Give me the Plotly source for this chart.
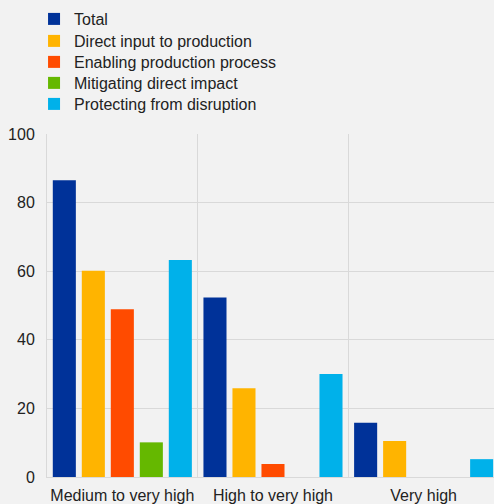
import plotly.graph_objects as go

categories = ["Medium to very high", "High to very high", "Very high"]
series_names = ["Total", "Direct input to production", "Enabling production process",
                "Mitigating direct impact", "Protecting from disruption"]
total = [86.5, 52.3, 15.8]
direct_input = [60.1, 25.9, 10.5]
enabling = [48.9, 3.8, 0.0]
mitigating = [10.1, 0.0, 0.0]
protecting = [63.3, 30.0, 5.2]
y_ticks = [0, 20, 40, 60, 80, 100]

colors = ["#003299", "#ffb400", "#ff4b00", "#65b800", "#00b1ea"]
values = [total, direct_input, enabling, mitigating, protecting]

x_pos = list(range(len(categories)))

grid = "#d9d9d9"
font = dict(family="Liberation Sans, Arial, sans-serif", size=16, color="#222222")

# one legend per series so the rows can sit at the reference's spacing
legend_ids = ["legend", "legend2", "legend3", "legend4", "legend5"]
legend_tops = [1.3848, 1.3207, 1.2595, 1.1983, 1.1370]

fig = go.Figure()
for name, vals, col, lid in zip(series_names, values, colors, legend_ids):
    fig.add_trace(go.Bar(x=x_pos, y=vals, name=name, legend=lid,
                         marker=dict(color=col, line=dict(width=0))))

legend_layout = {}
for lid, top in zip(legend_ids, legend_tops):
    legend_layout[lid] = dict(x=-0.029, y=top, xanchor="left", yanchor="top",
                              bgcolor="rgba(0,0,0,0)", font=font)

fig.update_layout(
    width=494, height=504,
    margin=dict(l=47, r=0, t=134, b=27),
    paper_bgcolor="#f2f2f2", plot_bgcolor="#f2f2f2",
    font=font,
    barmode="group", bargap=0.0375, bargroupgap=0.205,
    showlegend=True,
    xaxis=dict(range=[-0.5, 2.467], tickvals=x_pos, ticktext=categories,
               showgrid=False, zeroline=False, showline=True, linecolor=grid, linewidth=1,
               ticks="", tickfont=font, ticklabelstandoff=4,
               minor=dict(tickvals=[-0.5, 0.5, 1.5], showgrid=True, gridcolor=grid, gridwidth=1)),
    yaxis=dict(range=[0, 100], tickvals=y_ticks, showgrid=True, gridcolor=grid, gridwidth=1,
               zeroline=False, showline=True, linecolor=grid, linewidth=1,
               ticks="", tickfont=font, ticklabelstandoff=8),
    **legend_layout,
)

fig.write_html(
    "out.html",
    config={"displayModeBar": False},
    post_script="document.body.style.margin='0';document.body.style.overflow='hidden';"
                "document.body.style.background='#f2f2f2';",
)
